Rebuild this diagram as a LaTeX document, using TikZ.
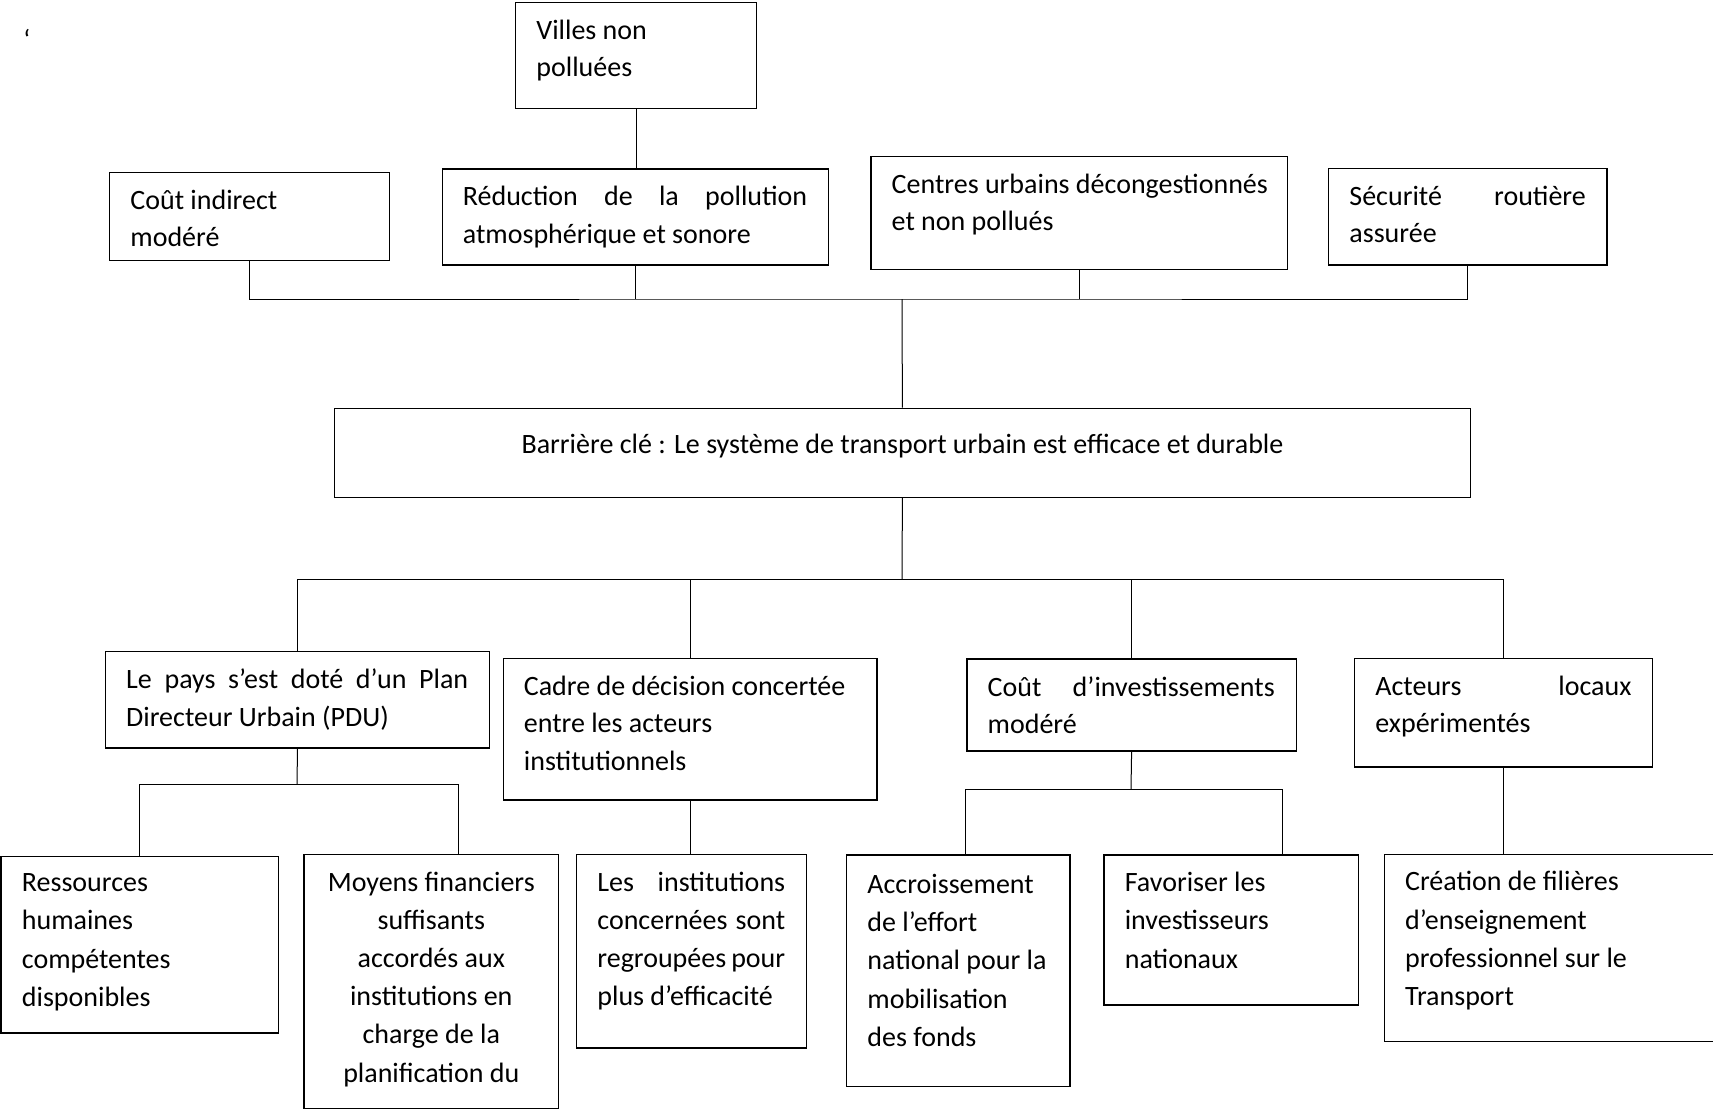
\documentclass[tikz,border=0pt]{standalone}
\usepackage{fontspec}
\setmainfont{Carlito}
\begin{document}
\begin{tikzpicture}[x=0.5pt, y=-0.5pt, every node/.style={font={\fontsize{14}{18.75}\selectfont}}]
  \tikzstyle{box}=[draw, line width=0.7pt, anchor=north west, inner sep=0pt]
  \tikzstyle{txt}=[anchor=north west, align=left, inner sep=0pt, xshift=10.5pt, execute at begin node={\rule{0pt}{13.5pt}}]
  \tikzstyle{mid}=[anchor=north, align=center, inner sep=0pt, execute at begin node={\rule{0pt}{13.5pt}}]
  \tikzstyle{loose}=[font={\fontsize{14}{19.1}\selectfont}]
  \clip (0,0) rectangle (1713,1110);
  \node[anchor=base west, inner sep=0pt] (tick) at (23,49) {‘};
  % effets
  \node[box, minimum width=120.5pt, minimum height=53pt] (vil) at (515,2) {};
  \node[txt] (vil-t) at ([yshift=-8.8pt]vil.north west) {Villes non\\polluées};
  \node[box, minimum width=140pt, minimum height=44pt] (cind) at (109,172) {};
  \node[txt] (cind-t) at ([yshift=-8.8pt]cind.north west) {Coût indirect\\modéré};
  \node[box, minimum width=193.2pt, minimum height=48pt] (red) at (441.5,168.3) {};
  \node[txt] (red-t) at ([yshift=-8.8pt]red.north west) {\makebox[172.2pt][s]{Réduction de la pollution}\\atmosphérique et sonore};
  \node[box, minimum width=208.2pt, minimum height=56.5pt] (cen) at (870.3,155.7) {};
  \node[txt] (cen-t) at ([yshift=-8.8pt]cen.north west) {Centres urbains décongestionnés\\et non pollués};
  \node[box, minimum width=139.2pt, minimum height=48.3pt] (sec) at (1328,167.7) {};
  \node[txt] (sec-t) at ([yshift=-8.8pt]sec.north west) {\makebox[118.2pt][s]{Sécurité routière}\\assurée};
  % barriere
  \node[box, minimum width=568.2pt, minimum height=44.5pt] (bar) at (333.5,407.7) {};
  \node[mid] (bar-t) at ([yshift=-9.3pt]bar.north) {Barrière clé : Le système de transport urbain est efficace et durable};
  % causes
  \node[box, minimum width=192pt, minimum height=48.2pt] (pdu) at (104.8,651) {};
  \node[txt] (pdu-t) at ([yshift=-8.8pt]pdu.north west) {\makebox[171pt][s]{Le pays s’est doté d’un Plan}\\Directeur Urbain (PDU)};
  \node[box, minimum width=186.8pt, minimum height=70.8pt] (cad) at (502.5,657.7) {};
  \node[txt] (cad-t) at ([yshift=-8.8pt]cad.north west) {Cadre de décision concertée\\entre les acteurs\\institutionnels};
  \node[box, minimum width=164.6pt, minimum height=46pt] (cinv) at (966.3,658.3) {};
  \node[txt] (cinv-t) at ([yshift=-8.8pt]cinv.north west) {\makebox[143.5pt][s]{Coût d’investissements}\\modéré};
  \node[box, minimum width=149pt, minimum height=54.3pt] (act) at (1354,657.7) {};
  \node[txt] (act-t) at ([yshift=-8.8pt]act.north west) {\makebox[128pt][s]{Acteurs locaux}\\expérimentés};
  % sous-causes
  \node[box, minimum width=138.5pt, minimum height=88.3pt] (res) at (0.5,855.7) {};
  \node[txt, loose] (res-t) at ([yshift=-8.8pt]res.north west) {Ressources\\humaines\\compétentes\\disponibles};
  \node[box, minimum width=127.3pt, minimum height=127pt] (moy) at (303.3,853.7) {};
  \node[mid, loose] (moy-t) at ([yshift=-8.8pt]moy.north) {Moyens financiers\\suffisants\\accordés aux\\institutions en\\charge de la\\planification du};
  \node[box, minimum width=114.9pt, minimum height=96.8pt] (ins) at (576,853.7) {};
  \node[txt, loose] (ins-t) at ([yshift=-8.8pt]ins.north west) {\makebox[93.9pt][s]{Les institutions}\\\makebox[93.9pt][s]{concernées sont}\\\makebox[93.9pt][s]{regroupées pour}\\plus d’efficacité};
  \node[box, minimum width=111.7pt, minimum height=115.7pt] (acc) at (846,854.3) {};
  \node[txt, loose] (acc-t) at ([yshift=-9.8pt]acc.north west) {Accroissement\\de l’effort\\national pour la\\mobilisation\\des fonds};
  \node[box, minimum width=127.3pt, minimum height=75pt] (fav) at (1103.4,854.3) {};
  \node[txt, loose] (fav-t) at ([yshift=-8.8pt]fav.north west) {Favoriser les\\investisseurs\\nationaux};
  \node[box, minimum width=180pt, minimum height=93.5pt] (cre) at (1383.7,853.5) {};
  \node[txt, loose] (cre-t) at ([yshift=-8.8pt]cre.north west) {Création de filières\\d’enseignement\\professionnel sur le\\Transport};
  % liaisons
  \coordinate (haut) at (902,299);
  \coordinate (bas) at (902,579);
  \coordinate (pduB) at (297,784);
  \coordinate (cinvB) at (1131,789);
  \draw[line width=0.5pt] (vil.south) -- (vil.south |- red.north);
  \draw[line width=0.5pt] (cind.south) |- (haut) -| (sec.south);
  \draw[line width=0.5pt] (red.south) -- (red.south |- haut);
  \draw[line width=0.5pt] (cen.south) -- (cen.south |- haut);
  \draw[line width=0.5pt] (haut) -- (bar.north);
  \draw[line width=0.5pt] (bar.south) -- (bas);
  \draw[line width=0.5pt] (pdu.north) |- (bas) -| (act.north);
  \draw[line width=0.5pt] (cad.north) -- (cad.north |- bas);
  \draw[line width=0.5pt] (cinv.north) -- (cinv.north |- bas);
  \draw[line width=0.5pt] (pdu.south) -- (pduB);
  \draw[line width=0.5pt] (res.north) |- (pduB) -| ([xshift=13.7pt]moy.north);
  \draw[line width=0.5pt] (cad.south) -- (cad.south |- ins.north);
  \draw[line width=0.5pt] (cinv.south) -- (cinvB);
  \draw[line width=0.5pt] ([xshift=3.4pt]acc.north) |- (cinvB) -| ([xshift=25.5pt]fav.north);
  \draw[line width=0.5pt] (act.south) -- (act.south |- cre.north);
\end{tikzpicture}
\end{document}
